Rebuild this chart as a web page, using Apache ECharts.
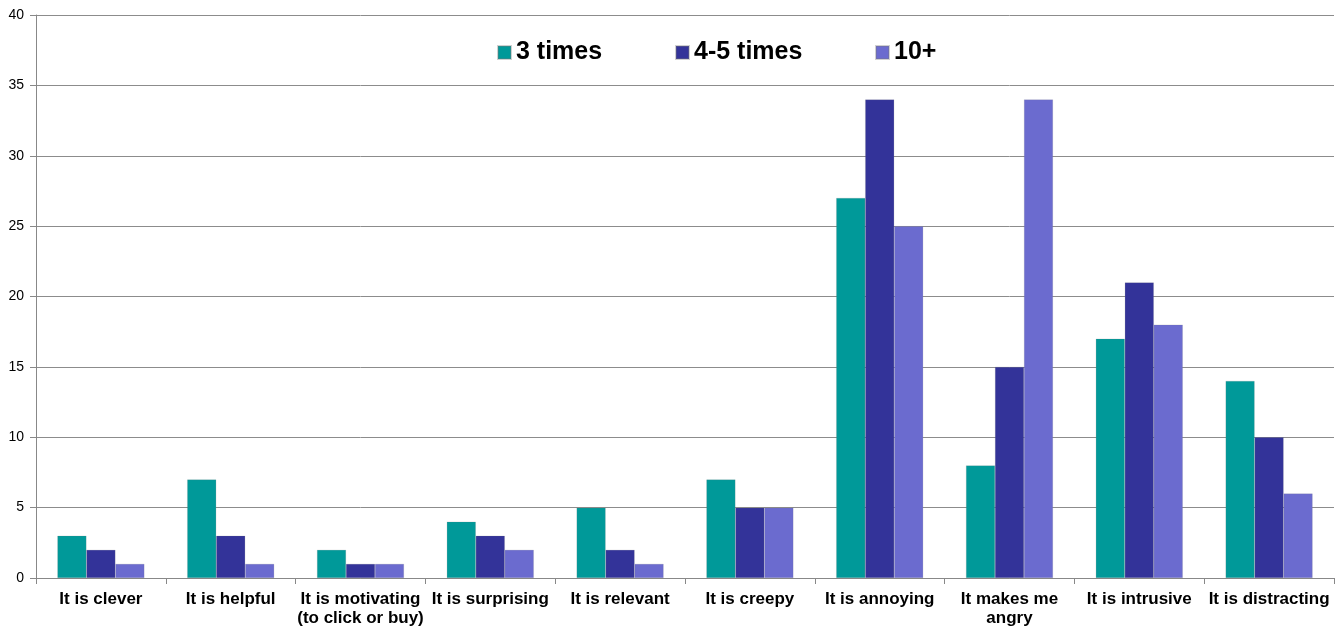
<!DOCTYPE html>
<html>
<head>
<meta charset="utf-8">
<script src="https://cdn.jsdelivr.net/npm/echarts@6/dist/echarts.min.js"></script>
<style>
  html, body { margin: 0; padding: 0; background: #fff; }
  #chart { width: 1339px; height: 627px; }
</style>
</head>
<body>
<div id="chart"></div>
<script>
// Reactions to seeing the same ad repeatedly
const categories = [
  'It is clever', 'It is helpful', 'It is motivating\n(to click or buy)', 'It is surprising',
  'It is relevant', 'It is creepy', 'It is annoying', 'It makes me\nangry',
  'It is intrusive', 'It is distracting'
];
const seriesNames = ['3 times', '4-5 times', '10+'];
const times3 = [3, 7, 2, 4, 5, 7, 27, 8, 17, 14];
const times4to5 = [2, 3, 1, 3, 2, 5, 34, 15, 21, 10];
const times10plus = [1, 1, 1, 2, 1, 5, 25, 34, 18, 6];
const colors = ['#009999', '#333399', '#6B6BCF'];
const legendLeft = [492, 670, 870];

const chart = echarts.init(document.getElementById('chart'));
const values = [times3, times4to5, times10plus];

chart.setOption({
  animation: false,
  textStyle: { fontFamily: 'Liberation Sans, Arial, sans-serif' },
  grid: { left: 36, right: 5, top: 15, bottom: 49, containLabel: false, outerBoundsMode: 'none' },
  legend: seriesNames.map((name, i) => ({
    top: 35,
    left: legendLeft[i],
    itemWidth: 13,
    itemHeight: 13,
    icon: 'rect',
    textStyle: { fontSize: 25, fontWeight: 'bold', color: '#000' },
    data: [name]
  })),
  xAxis: {
    type: 'category',
    data: categories,
    axisLine: { lineStyle: { color: '#888', width: 1 } },
    axisTick: { show: true, alignWithLabel: false, length: 6, lineStyle: { color: '#888' } },
    axisLabel: { color: '#000', fontSize: 17, fontWeight: 'bold', margin: 12, lineHeight: 19, interval: 0 }
  },
  yAxis: {
    type: 'value',
    min: 0,
    max: 40,
    interval: 5,
    axisLine: { show: true, lineStyle: { color: '#888' } },
    axisTick: { show: true, length: 6, lineStyle: { color: '#888' } },
    axisLabel: { color: '#000', fontSize: 14, margin: 12 },
    splitLine: { lineStyle: { color: '#8c8c8c', width: 1 } }
  },
  series: seriesNames.map((name, i) => ({
    name,
    type: 'bar',
    data: values[i],
    barGap: '0%',
    barCategoryGap: '33%',
    itemStyle: { color: colors[i], borderColor: 'rgba(120,120,120,0.35)', borderWidth: 0.5 }
  }))
});
</script>
</body>
</html>
